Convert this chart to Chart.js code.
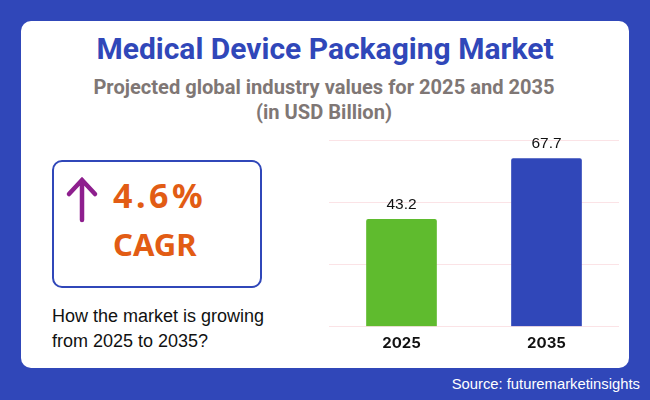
<!DOCTYPE html>
<html>
<head>
<meta charset="utf-8">
<script src="https://cdn.jsdelivr.net/npm/chart.js@4"></script>
<style>
  html, body { margin: 0; padding: 0; }
  body { width: 650px; height: 400px; background: #3047b9; position: relative; overflow: hidden; }
  .card { position: absolute; left: 21px; top: 21px; width: 608px; height: 347px; background: #fff; border-radius: 10px; }
  .txt { position: absolute; white-space: nowrap; }
  #title { left: 0; width: 650px; top: 31px; text-align: center; font: 700 30px Roboto, sans-serif; color: #3047b9; }
  #sub { left: 0; width: 648px; top: 75px; text-align: center; font: 700 20.1px/25px Roboto, sans-serif; color: #7f7775; }
  .box { position: absolute; left: 52px; top: 160px; width: 206px; height: 124px; border: 2px solid #3047b9; border-radius: 10px; }
  #rate { left: 113px; top: 172px; font: 700 34px "Noto Sans", sans-serif; letter-spacing: 3.5px; color: #e25c14; }
  #cagr { left: 113px; top: 223px; font: 700 31px "Noto Sans", sans-serif; color: #e25c14; }
  #how { left: 52px; top: 304px; font: 18px/25px "Liberation Sans", sans-serif; color: #111; }
  #source { right: 10px; top: 376px; font: 14.8px "Liberation Sans", sans-serif; color: #fff; }
  svg { position: absolute; left: 65px; top: 172px; }
  #wrap { position: absolute; left: 320px; top: 130px; width: 310px; height: 230px; }
</style>
</head>
<body>
<div class="card"></div>
<div class="txt" id="title">Medical Device Packaging Market</div>
<div class="txt" id="sub">Projected global industry values for 2025 and 2035<br>(in USD Billion)</div>
<div class="box"></div>
<svg width="34" height="56" viewBox="0 0 34 56">
  <path d="M17 48 V8 M4 22 L17 8 L30 22" fill="none" stroke="#8e1f8e" stroke-width="4.5" stroke-linecap="round" stroke-linejoin="miter"/>
</svg>
<div class="txt" id="rate">4.6%</div>
<div class="txt" id="cagr">CAGR</div>
<div class="txt" id="how">How the market is growing<br>from 2025 to 2035?</div>
<div class="txt" id="source">Source: futuremarketinsights</div>
<div id="wrap"><canvas id="chart"></canvas></div>
<script>
const years = ["2025", "2035"];
const values = [43.2, 67.7];
const barColors = ["#5fbb2e", "#3047b9"];

const valueLabels = {
  id: "valueLabels",
  afterDatasetsDraw(chart) {
    const { ctx } = chart;
    const bars = chart.getDatasetMeta(0).data;
    ctx.save();
    ctx.fillStyle = "#111";
    ctx.font = "15.5px 'Liberation Sans', sans-serif";
    ctx.textAlign = "center";
    ctx.textBaseline = "alphabetic";
    bars.forEach((bar, i) => {
      ctx.fillText(values[i].toFixed(1), bar.x, bar.y - 10.5);
    });
    ctx.restore();
  },
};

new Chart(document.getElementById("chart"), {
  type: "bar",
  data: {
    labels: years,
    datasets: [{
      data: values,
      backgroundColor: barColors,
      barThickness: 70,
      borderRadius: { topLeft: 2, topRight: 2 },
      borderSkipped: "bottom",
    }],
  },
  plugins: [valueLabels],
  options: {
    animation: false,
    responsive: true,
    maintainAspectRatio: false,
    layout: { padding: { left: 9, right: 11, top: 10.5, bottom: 7.5 } },
    plugins: { legend: { display: false }, tooltip: { enabled: false } },
    scales: {
      x: {
        grid: { display: false },
        border: { display: false },
        ticks: { color: "#111", padding: 0, font: { family: "Inter, sans-serif", size: 15, weight: "700" } },
      },
      y: {
        min: 0,
        max: 75,
        afterFit(scale) { scale.width = 0; },
        grid: { color: "#fbe3e6", lineWidth: 1, drawTicks: false },
        border: { display: false },
        ticks: { stepSize: 25, display: false },
      },
    },
  },
});
</script>
</body>
</html>
